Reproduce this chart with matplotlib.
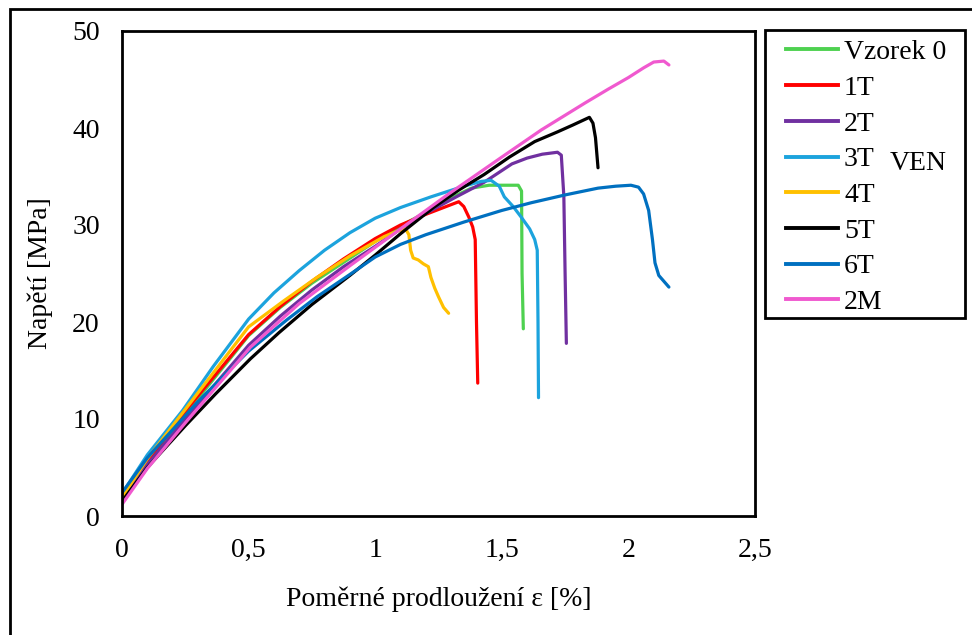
import matplotlib.pyplot as plt
from matplotlib.patches import Rectangle
from matplotlib.lines import Line2D

plt.rcParams['font.family'] = ['Liberation Serif', 'DejaVu Serif']

# strain [%] vs stress [MPa]
x_v0 = [0, 0.1, 0.25, 0.5, 0.625, 0.75, 1.0, 1.1, 1.2, 1.3, 1.38, 1.45, 1.5, 1.565, 1.578, 1.58, 1.585]
y_v0 = [1.8, 5.5, 10.5, 18.6, 21.5, 24.0, 28.3, 29.9, 31.3, 32.8, 33.8, 34.1, 34.1, 34.1, 33.5, 25.0, 19.3]

x_1t = [0, 0.1, 0.25, 0.5, 0.625, 0.75, 0.875, 1.0, 1.1, 1.2, 1.28, 1.33, 1.35, 1.37, 1.385, 1.395, 1.40, 1.405]
y_1t = [1.3, 5.6, 10.8, 18.7, 21.6, 24.2, 26.5, 28.6, 30.0, 31.1, 31.9, 32.4, 31.9, 30.8, 29.8, 28.5, 20.0, 13.7]

x_2t = [0, 0.1, 0.25, 0.5, 0.625, 0.75, 0.875, 1.0, 1.1, 1.2, 1.32, 1.43, 1.54, 1.6, 1.66, 1.72, 1.735, 1.745, 1.75, 1.755]
y_2t = [1.7, 5.3, 10.0, 17.6, 20.6, 23.3, 25.7, 27.8, 29.6, 31.2, 32.9, 34.4, 36.3, 36.9, 37.3, 37.5, 37.2, 33.0, 25.0, 17.8]

x_3t = [0, 0.1, 0.24, 0.36, 0.5, 0.6, 0.7, 0.8, 0.9, 1.0, 1.1, 1.22, 1.35, 1.42, 1.458,
        1.49, 1.51, 1.545, 1.577, 1.61, 1.63, 1.64, 1.643, 1.645]
y_3t = [2.3, 6.3, 10.9, 15.4, 20.3, 23.0, 25.3, 27.4, 29.2, 30.7, 31.8, 32.9, 34.0, 34.5, 34.6,
        34.0, 32.9, 31.9, 30.8, 29.6, 28.5, 27.4, 20.0, 12.2]

x_4t = [0, 0.1, 0.25, 0.5, 0.64, 0.77, 0.9, 1.035, 1.09, 1.12, 1.133, 1.14, 1.15, 1.17,
        1.19, 1.21, 1.22, 1.235, 1.25, 1.27, 1.29]
y_4t = [1.9, 5.9, 11.0, 19.5, 22.2, 24.6, 26.8, 28.8, 29.4, 29.6, 29.0, 27.4, 26.6, 26.4,
        26.0, 25.7, 24.6, 23.5, 22.6, 21.5, 20.9]

x_5t = [0, 0.1, 0.25, 0.37, 0.507, 0.62, 0.75, 0.9, 1.0, 1.1, 1.23, 1.33, 1.43, 1.53, 1.63,
        1.72, 1.78, 1.846, 1.86, 1.87, 1.88]
y_5t = [1.5, 5.0, 9.3, 12.6, 16.2, 18.9, 21.8, 24.8, 26.9, 29.1, 31.8, 33.6, 35.2, 37.0, 38.6,
        39.6, 40.3, 41.1, 40.5, 39.0, 35.9]

x_6t = [0, 0.1, 0.3, 0.5, 0.65, 0.77, 0.9, 1.0, 1.1, 1.2, 1.35, 1.5, 1.617, 1.75, 1.88, 1.95,
        2.01, 2.04, 2.06, 2.08, 2.095, 2.105, 2.12, 2.14, 2.16]
y_6t = [2.4, 6.0, 11.8, 17.0, 20.2, 22.6, 24.9, 26.7, 28.0, 29.0, 30.3, 31.5, 32.3, 33.1, 33.8, 34.0,
        34.1, 33.9, 33.2, 31.5, 28.5, 26.1, 24.8, 24.2, 23.6]

x_2m = [0, 0.1, 0.25, 0.507, 0.7, 0.9, 1.1, 1.29, 1.5, 1.656, 1.83, 1.92, 2.0, 2.06, 2.10, 2.14, 2.16]
y_2m = [1.2, 4.9, 9.6, 17.4, 21.9, 25.8, 29.6, 33.2, 37.0, 39.8, 42.6, 44.0, 45.2, 46.2, 46.8, 46.9, 46.5]

series = [
    ('Vzorek 0', x_v0, y_v0, '#4ED150'),
    ('1T', x_1t, y_1t, '#FF0000'),
    ('2T', x_2t, y_2t, '#7030A0'),
    ('3T', x_3t, y_3t, '#1CA3DD'),
    ('4T', x_4t, y_4t, '#FFC000'),
    ('5T', x_5t, y_5t, '#000000'),
    ('6T', x_6t, y_6t, '#0070C0'),
    ('2M', x_2m, y_2m, '#F059CF'),
]

W, H = 972, 635
fig = plt.figure(figsize=(W / 100, H / 100), dpi=100)
ax = fig.add_axes([122 / W, 1 - 516 / H, (755 - 122) / W, (516 - 31) / H])

for name, xs, ys, c in series:
    ax.plot(xs, ys, color=c, lw=2.3, label=name, solid_capstyle='round', solid_joinstyle='round')

ax.set_xlim(0, 2.5)
ax.set_ylim(0, 50)
ax.set_xticks([0, 0.5, 1, 1.5, 2, 2.5])
ax.set_xticklabels(['0', '0,5', '1', '1,5', '2', '2,5'])
ax.set_yticks([0, 10, 20, 30, 40, 50])
ax.tick_params(length=0, labelsize=20)
ax.tick_params(axis='x', pad=16)
ax.tick_params(axis='y', pad=16)
for s in ax.spines.values():
    s.set_linewidth(2)
    s.set_color('black')

ax.set_xlabel('Poměrné prodloužení ε [%]', fontsize=20, labelpad=17)
ax.set_ylabel('Napětí [MPa]', fontsize=20, labelpad=14)

# legend box drawn by hand so its size matches
fig.patches.append(Rectangle((765 / W, 1 - 318 / H), 200 / W, 288 / H,
                             transform=fig.transFigure, fill=False,
                             edgecolor='black', lw=2))
handles = [Line2D([], [], color=c, lw=2.8) for _, _, _, c in series]
labels = [n for n, _, _, _ in series]
fig.legend(handles, labels, loc='upper left', bbox_to_anchor=(769 / W, 1 - 23 / H),
           frameon=False, fontsize=20, handlelength=1.9, handletextpad=0.2,
           labelspacing=0.37, borderpad=0.1)
fig.text(918 / W, 1 - 163 / H, 'VEN', fontsize=20, ha='center', va='center')

# outer border of the picture (cut off at right and bottom)
fig.patches.append(Rectangle((10 / W, -0.05), 1.2, 1 - 9 / H + 0.05,
                             transform=fig.transFigure, fill=False,
                             edgecolor='black', lw=2))

fig.savefig('out.png', dpi=100)
